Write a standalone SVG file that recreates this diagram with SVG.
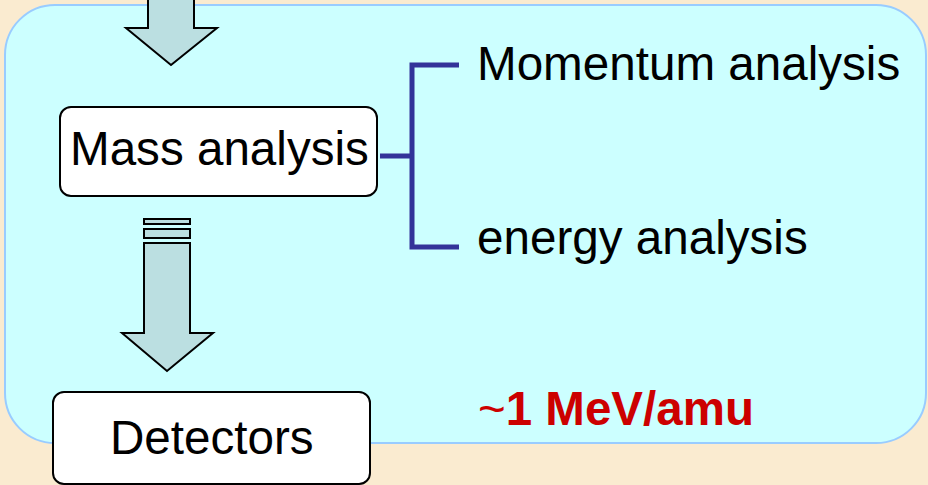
<svg xmlns="http://www.w3.org/2000/svg" width="928" height="485" viewBox="0 0 928 485">
  <defs>
    <style>
      .box { fill: #FFFFFF; stroke: #000000; stroke-width: 2; }
      .arrow { fill: #BBDFE1; stroke: #000000; stroke-width: 2; stroke-linejoin: miter; }
      .lbl { font-family: "Liberation Sans", Arial, sans-serif; font-size: 47.6px; fill: #000000; }
      .conn { fill: none; stroke: #333399; stroke-width: 5; }
    </style>
  </defs>
  <rect x="0" y="0" width="928" height="485" fill="#FAEBD0"/>
  <g id="panel">
    <rect x="5" y="5" width="921" height="438" rx="50" ry="50" fill="#CCFFFF" stroke="#99CCFF" stroke-width="2"/>
  </g>
  <g id="arrow-top">
    <polygon class="arrow" points="148,-3 194,-3 194,28 217,28 171,65 126,28 148,28"/>
  </g>
  <g id="arrow-down">
    <rect class="arrow" x="144" y="219" width="46" height="5"/>
    <rect class="arrow" x="144" y="229" width="46" height="9"/>
    <polygon class="arrow" points="144,243 190,243 190,333 213,333 167,371 122,333 144,333"/>
  </g>
  <g id="connectors">
    <path class="conn" d="M380 156 H412 M459 65 H412 V247 H459"/>
  </g>
  <g id="mass-analysis">
    <rect class="box" x="60" y="107" width="317" height="89" rx="11" ry="11"/>
    <text class="lbl" x="70" y="165">Mass analysis</text>
  </g>
  <g id="momentum-analysis">
    <text class="lbl" x="477" y="80">Momentum analysis</text>
  </g>
  <g id="energy-analysis">
    <text class="lbl" x="477" y="254">energy analysis</text>
  </g>
  <g id="detectors">
    <rect class="box" x="53" y="392" width="317" height="92" rx="11" ry="11"/>
    <text class="lbl" x="110" y="454">Detectors</text>
  </g>
  <g id="energy-note">
    <text x="478" y="425" font-family="'Liberation Sans', Arial, sans-serif" font-size="47.5" fill="#CC0000"><tspan font-weight="normal">~</tspan><tspan font-weight="bold">1 MeV/amu</tspan></text>
  </g>
</svg>
